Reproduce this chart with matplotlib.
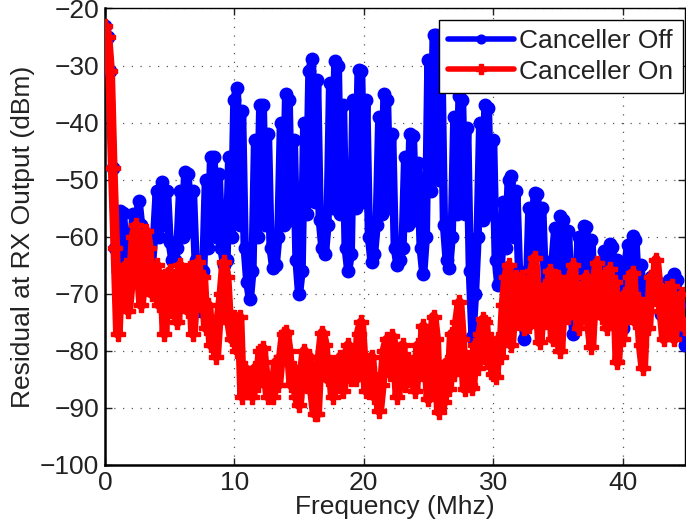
import numpy as np
import matplotlib
matplotlib.use("Agg")
import matplotlib.pyplot as plt

plt.rcParams['font.family'] = ['Liberation Sans', 'DejaVu Sans']

# frequency grid (MHz), one reading every 0.2 MHz
step = 0.2

# Canceller Off (dBm), rows of 2 MHz
off_db = [
    -23, -25, -31, -48, -62, -66, -55.5, -55.8, -63, -67,
    -62, -56, -62, -53.7, -58, -66, -69, -69, -66, -60,
    -52, -60, -50.4, -58, -52, -61, -64, -64, -62, -52,
    -60, -48.6, -49, -59, -52, -64, -70, -73, -66, -50,
    -62, -46, -46, -60, -49, -62, -65, -64, -46, -60,
    -36, -33.9, -58, -38, -62, -68, -71, -66, -43, -60,
    -37, -37, -58, -42, -62, -65.5, -65, -60, -40, -58,
    -35, -36, -57, -43, -64, -70, -66, -40, -56, -31,
    -28.8, -54, -32.5, -57, -62, -63, -58, -33, -55, -29.2,
    -30, -56, -37, -62, -66, -63, -36, -55, -30.7, -31,
    -54, -36, -60, -64.5, -63, -58, -39, -56, -35, -36,
    -55, -42, -62, -65, -64, -62, -46, -58, -42, -42.3,
    -57, -47, -62, -66.5, -60, -29, -52, -24.6, -24.7, -50,
    -29, -58, -64, -65.5, -60, -39, -56, -35.4, -36, -56,
    -41, -66, -77.5, -70, -60, -40, -57, -37, -37.5, -56,
    -43, -64, -68.5, -66, -54, -62, -50, -49.3, -60, -52,
    -66, -73, -78, -70, -55, -64, -52.4, -52.5, -63, -55,
    -68, -72, -71, -64, -58.5, -66, -56.3, -57, -66, -59,
    -72, -77, -70, -60, -68, -58.2, -58.3, -67, -60.5, -71,
    -73, -72, -68, -62.5, -69, -61.2, -61.8, -69, -64, -75,
    -76, -66, -61.5, -68, -59.8, -60.5, -69, -65, -72, -70,
    -68, -67, -71, -67.5, -71, -73.5, -74, -70, -67.5, -72,
    -66.5, -67.5, -72, -77, -79,
]

# Canceller On (dBm), rows of 2 MHz
on_db = [
    -23, -25, -31, -48, -62, -77, -66, -71, -65, -73,
    -68, -60, -58, -66, -72, -64, -59, -62, -70, -67,
    -65, -72, -67, -77, -69, -66, -73, -68, -75, -65,
    -71, -66, -73, -65.5, -77, -70, -64.5, -72, -67, -76,
    -72, -79, -75, -81, -74, -70, -64.5, -67, -75, -78,
    -74, -80, -74, -88, -83, -86, -84, -88, -83, -86,
    -80, -79.5, -84, -88, -85, -88, -82, -86, -81, -77,
    -76.7, -80, -86, -83, -88, -89.5, -84, -80, -86, -81,
    -87, -91, -91, -81, -76.8, -79, -85, -82, -88, -84,
    -86, -81, -87, -82, -79, -85, -80, -85, -77, -75,
    -82, -87, -83, -81, -88, -85, -90.5, -86, -80, -78,
    -84, -77.4, -80, -88, -84, -79, -86, -81.5, -85, -82,
    -87, -79, -84, -75.7, -80, -88.5, -83, -74, -78, -90.7,
    -85, -89, -82, -86.7, -77, -84, -75, -71.5, -78, -86.7,
    -81, -86, -86.5, -79, -83, -77, -74.5, -75, -82, -78,
    -84, -84.5, -78, -81, -72, -67, -65, -79, -72, -67,
    -75, -67, -76, -70, -75.7, -66, -63.7, -70, -78.5, -72,
    -68.7, -75, -66, -78, -70, -67, -80, -72, -68, -74,
    -67, -65, -72, -76, -69, -73, -67, -75, -79.3, -70,
    -64.6, -70, -74, -67, -76, -65.7, -72, -68, -82, -75,
    -78, -70, -74, -67, -66.3, -75, -71, -79, -83, -72,
    -76, -67, -71, -64, -69, -73, -78, -69, -75, -68.7,
    -78, -72, -74.5, -70, -76,
]

freq_off = np.arange(len(off_db)) * step
freq_on = np.arange(len(on_db)) * step

xticks = [0, 10, 20, 30, 40]
yticks = [-100, -90, -80, -70, -60, -50, -40, -30, -20]

fig = plt.figure(figsize=(6.86, 5.29), dpi=100)
ax = fig.add_axes([0.153, 0.121, 0.845, 0.863])

ax.plot(freq_off, off_db, color='#0000ff', lw=6, marker='o', ms=9,
        label='Canceller Off', zorder=3, solid_joinstyle='round',
        solid_capstyle='round')
ax.plot(freq_on, on_db, color='#ff0000', lw=7, marker='P', ms=10,
        label='Canceller On', zorder=4, solid_joinstyle='round',
        solid_capstyle='round')

ax.set_xlim(0, 44.8)
ax.set_ylim(-100, -20)
ax.set_xticks(xticks)
ax.set_yticks(yticks)
ax.set_yticklabels([str(t).replace('-', '\u2212') for t in yticks])

ax.grid(True, color='0.35', linestyle=(0, (1, 6)), lw=0.9)
ax.set_axisbelow(True)
ax.tick_params(direction='in', length=5, width=1, top=True, right=True,
               labelsize=19, pad=4, colors='#222222')
for side in ['left', 'bottom']:
    ax.spines[side].set_linewidth(1.8)
for side in ['top', 'right']:
    ax.spines[side].set_linewidth(1.0)

ax.set_xlabel('Frequency (Mhz)', fontsize=19, color='#222222', labelpad=0)
ax.set_ylabel('Residual at RX Output (dBm)', fontsize=19, color='#222222',
              labelpad=4)

leg = ax.legend(loc='upper right', fontsize=19, fancybox=False, framealpha=1,
                edgecolor='k', borderpad=0.35, handlelength=2.5,
                handletextpad=0.2, labelspacing=0.25, numpoints=1,
                markerscale=0.7,
                bbox_to_anchor=(0.9965, 0.975), borderaxespad=0)
leg.get_frame().set_linewidth(1.0)
for line in leg.get_lines():
    line.set_linewidth(4)
for t in leg.get_texts():
    t.set_color('#222222')

fig.savefig('out.png', dpi=100)
